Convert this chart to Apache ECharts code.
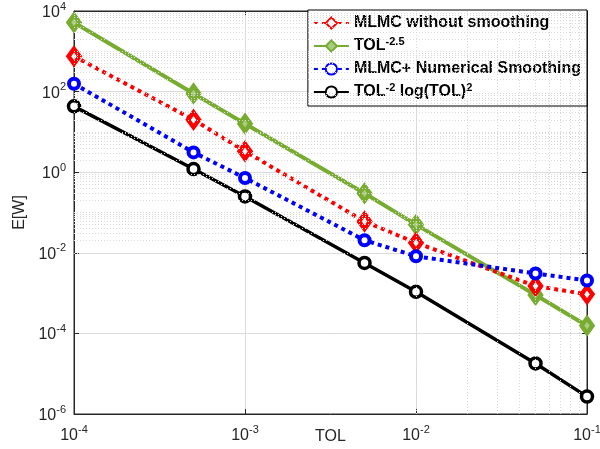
<!DOCTYPE html>
<html>
<head>
<meta charset="utf-8">
<script src="https://cdn.jsdelivr.net/npm/echarts@6/dist/echarts.min.js"></script>
<style>html,body{margin:0;padding:0;background:#fff}#c{width:600px;height:449px}</style>
</head>
<body>
<div id="c"></div>
<script>
const tols = [1e-4, 5e-4, 1e-3, 5e-3, 1e-2, 5e-2, 1e-1];
const mlmcNoSmooth = [750, 20, 3.3, 0.06, 0.0177, 1.5e-3, 9.3e-4];
const tolRate = [5200, 90, 16, 0.3, 0.05, 9e-4, 1.55e-4];
const mlmcSmooth = [157, 3.1, 0.72, 0.0205, 8.2e-3, 3.07e-3, 2.06e-3];
const tolLog = [43, 1.2, 0.25, 5.6e-3, 1.08e-3, 1.8e-5, 2.7e-6];
const seriesNames = ['MLMC without smoothing', 'TOL^-2.5', 'MLMC+ Numerical Smoothing', 'TOL^-2 log(TOL)^2'];

const FONT = 'Liberation Sans, Arial, sans-serif';
const AX = '#262626';

function pairs(ys) { return tols.map((x, i) => [x, ys[i]]); }
function supLabel(v) {
  const e = Math.round(Math.log10(v));
  return '{b|10}{s|' + e + '}';
}
const richTick = {
  b: { fontSize: 16, fontFamily: FONT, color: AX, lineHeight: 16, padding: [3, 0, 0, 0] },
  s: { fontSize: 11, fontFamily: FONT, color: AX, lineHeight: 11, padding: [0, 0, 9, 0] }
};

// minor grid positions (log decades)
const xMinor = [], yMinor = [];
for (let e = -4; e <= -2; e++) for (let k = 2; k <= 9; k++) xMinor.push(k * Math.pow(10, e));
for (let e = -6; e <= 3; e++) {
  for (let k = 2; k <= 9; k++) yMinor.push(k * Math.pow(10, e));
  if (e % 2 !== 0) yMinor.push(Math.pow(10, e));
}

const minorStyle = { color: '#d9d9d9', type: [1, 2], width: 1 };
const gridMarks = [];
xMinor.forEach(v => gridMarks.push({ xAxis: v, lineStyle: minorStyle }));
yMinor.forEach(v => gridMarks.push({ yAxis: v, lineStyle: minorStyle }));

const legendRich = {
  n: { fontSize: 16, fontWeight: 'bold', fontFamily: FONT, color: '#000', lineHeight: 16 },
  p: { fontSize: 11, fontWeight: 'bold', fontFamily: FONT, color: '#000', lineHeight: 11, padding: [0, 0, 9, 0] }
};
function legendFmt(name) {
  if (name === 'TOL^-2.5') return '{n|TOL}{p|-2.5}';
  if (name === 'TOL^-2 log(TOL)^2') return '{n|TOL}{p|-2}{n| log(TOL)}{p|2}';
  return '{n|' + name + '}';
}

const chart = echarts.init(document.getElementById('c'));
const baseX = {
  type: 'log', logBase: 10, min: 1e-4, max: 1e-1, interval: 1,
  axisLine: { show: true, lineStyle: { color: AX, width: 1 } },
  axisTick: { show: true, inside: true, length: 5, lineStyle: { color: AX } },
  splitLine: { show: false }
};
const baseY = {
  type: 'log', logBase: 10, min: 1e-6, max: 1e4, interval: 2,
  axisLine: { show: true, lineStyle: { color: AX, width: 1 } },
  axisTick: { show: true, inside: true, length: 5, lineStyle: { color: AX } },
  splitLine: { show: false }
};

function mk(fill, stroke, bw) {
  return { color: fill, borderColor: stroke, borderWidth: bw };
}

chart.setOption({
  animation: false,
  backgroundColor: '#fff',
  grid: { left: 74, right: 13, top: 11, bottom: 35, containLabel: false, outerBoundsMode: 'none',
          show: true, borderColor: AX, borderWidth: 1, backgroundColor: 'transparent' },
  legend: {
    data: seriesNames,
    orient: 'vertical',
    right: 13, top: 10,
    padding: [5, 6, 4, 5],
    itemWidth: 35, itemHeight: 14, itemGap: 5,
    backgroundColor: '#fff',
    borderColor: '#000', borderWidth: 1,
    formatter: legendFmt,
    textStyle: { rich: legendRich, fontSize: 16, fontWeight: 'bold', fontFamily: FONT, color: '#000' }
  },
  xAxis: [
    Object.assign({}, baseX, {
      position: 'bottom',
      name: 'TOL', nameLocation: 'middle', nameGap: 15, nameMoveOverlap: false,
      nameTextStyle: { fontSize: 16, fontFamily: FONT, color: AX },
      axisLabel: { formatter: supLabel, rich: richTick, margin: 12 },
      splitLine: { show: true, lineStyle: { color: '#dcdcdc', width: 1 } }
    }),
    Object.assign({}, baseX, { position: 'top', axisLabel: { show: false } })
  ],
  yAxis: [
    Object.assign({}, baseY, {
      position: 'left',
      name: 'E[W]', nameLocation: 'middle', nameGap: 46, nameMoveOverlap: false,
      nameTextStyle: { fontSize: 16, fontFamily: FONT, color: AX },
      axisLabel: { formatter: supLabel, rich: richTick, margin: 8 },
      splitLine: { show: true, lineStyle: { color: '#dcdcdc', width: 1 } }
    }),
    Object.assign({}, baseY, { position: 'right', axisLabel: { show: false } })
  ],
  series: [
    {
      name: 'minorGrid', type: 'line', data: [[1e-4, 1e-6]], showSymbol: false, silent: true, z: 1,
      lineStyle: { opacity: 0 },
      markLine: { silent: true, symbol: 'none', label: { show: false }, data: gridMarks, animation: false }
    },
    {
      name: seriesNames[0], type: 'line', data: pairs(mlmcNoSmooth), z: 4,
      color: '#ff0000',
      lineStyle: { color: '#ff0000', width: 4, type: [4, 4], cap: 'butt' },
      symbol: 'diamond', symbolSize: [11, 15],
      itemStyle: mk('#ffffff', '#ff0000', 4.5)
    },
    {
      name: seriesNames[1], type: 'line', data: pairs(tolRate), z: 3,
      color: '#77ac30',
      lineStyle: { color: '#77ac30', width: 4 },
      symbol: 'diamond', symbolSize: [11, 15],
      itemStyle: mk('#a9cc80', '#77ac30', 4.5)
    },
    {
      name: seriesNames[2], type: 'line', data: pairs(mlmcSmooth), z: 5,
      color: '#0000ff',
      lineStyle: { color: '#0000ff', width: 4, type: [4, 4], cap: 'butt' },
      symbol: 'circle', symbolSize: 10,
      itemStyle: mk('#ffffff', '#0000ff', 4)
    },
    {
      name: seriesNames[3], type: 'line', data: pairs(tolLog), z: 3,
      color: '#000000',
      lineStyle: { color: '#000000', width: 3.5 },
      symbol: 'circle', symbolSize: 11,
      itemStyle: mk('#ffffff', '#000000', 3.5)
    }
  ]
});
</script>
</body>
</html>
